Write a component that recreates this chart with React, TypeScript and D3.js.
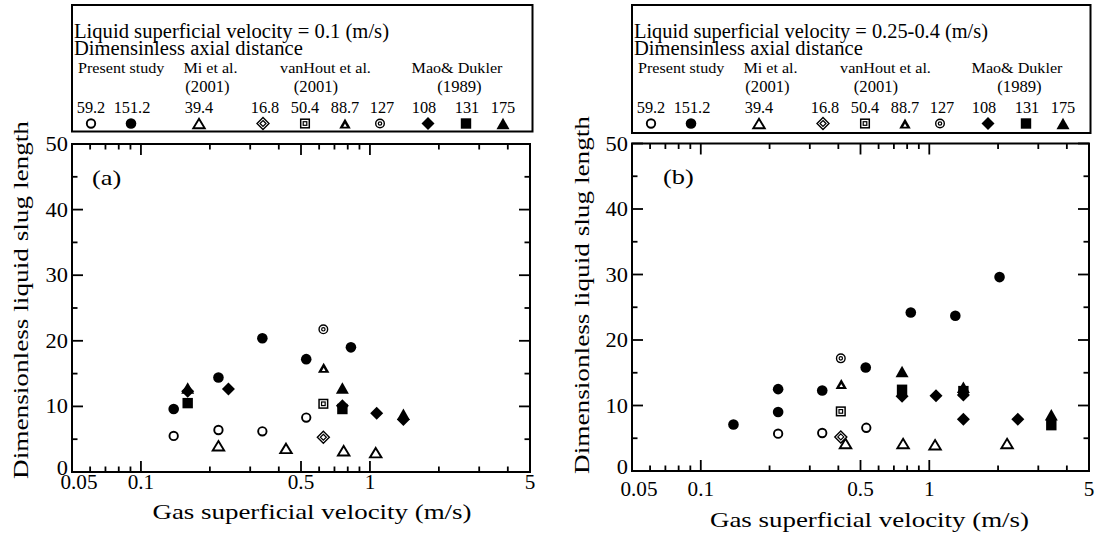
import React from 'react';
import * as d3 from 'd3';

// ---------- data ----------
const seriesKeys = ['ps59', 'ps151', 'mi39', 'vh17', 'vh50', 'vh89', 'vh127', 'md108', 'md131', 'md175'];
const seriesNumbers = ['59.2', '151.2', '39.4', '16.8', '50.4', '88.7', '127', '108', '131', '175'];
const groupNames = ['Present study', 'Mi et al.', 'vanHout et al.', 'Mao& Dukler'];
const groupYears = ['', '(2001)', '(2001)', '(1989)'];
const xTickValues = [0.05, 0.1, 0.5, 1, 5];
const xTickLabels = ['0.05', '0.1', '0.5', '1', '5'];
const xMinorValues = [0.06, 0.07, 0.08, 0.09, 0.2, 0.3, 0.4, 0.6, 0.7, 0.8, 0.9, 2, 3, 4];
const xMajorInner = [0.1, 0.5, 1];
const yTickValues = [0, 10, 20, 30, 40, 50];
const yMinorValues = [5, 15, 25, 35, 45];
const legendTitleA = 'Liquid superficial velocity = 0.1 (m/s)';
const legendTitleB = 'Liquid superficial velocity = 0.25-0.4 (m/s)';
const legendSubtitle = 'Dimensinless axial distance';
const xTitle = 'Gas superficial velocity (m/s)';
const yTitle = 'Dimensionless liquid slug length';

// Panel (a): Liquid superficial velocity = 0.1 m/s  [gas velocity, slug length]
const a_ps59 = [[0.139, 5.5], [0.218, 6.4], [0.339, 6.2], [0.527, 8.3]];
const a_ps151 = [[0.139, 9.6], [0.218, 14.4], [0.339, 20.4], [0.527, 17.2], [0.826, 19.0]];
const a_mi39 = [[0.218, 4.0], [0.43, 3.6], [0.768, 3.25], [1.06, 2.95]];
const a_vh17 = [[0.626, 5.3]];
const a_vh50 = [[0.626, 10.4]];
const a_vh89 = [[0.628, 15.9]];
const a_vh127 = [[0.626, 21.75]];
const a_md108 = [[0.16, 12.3], [0.241, 12.65], [0.758, 10.1], [1.07, 8.95], [1.4, 8.0]];
const a_md131 = [[0.16, 10.5], [0.758, 9.6]];
const a_md175 = [[0.16, 12.8], [0.758, 12.8], [1.4, 8.8]];

// Panel (b): Liquid superficial velocity = 0.25-0.4 m/s
const b_ps59 = [[0.218, 5.7], [0.34, 5.8], [0.53, 6.6]];
const b_ps151 = [[0.139, 7.1], [0.218, 9.0], [0.218, 12.5], [0.34, 12.3], [0.527, 15.8], [0.83, 24.2], [1.3, 23.7], [2.03, 29.6]];
const b_mi39 = [[0.43, 4.2], [0.768, 4.2], [1.06, 4.0], [2.19, 4.2]];
const b_vh17 = [[0.41, 5.2]];
const b_vh50 = [[0.41, 9.1]];
const b_vh89 = [[0.412, 13.3]];
const b_vh127 = [[0.41, 17.2]];
const b_md108 = [[0.76, 11.4], [1.07, 11.5], [1.41, 11.6], [1.41, 7.9], [2.44, 7.9]];
const b_md131 = [[0.76, 12.4], [1.41, 12.2], [3.42, 7.0]];
const b_md175 = [[0.76, 15.2], [1.41, 12.8], [3.42, 8.6]];

const panelAData = { ps59: a_ps59, ps151: a_ps151, mi39: a_mi39, vh17: a_vh17, vh50: a_vh50, vh89: a_vh89, vh127: a_vh127, md108: a_md108, md131: a_md131, md175: a_md175 };
const panelBData = { ps59: b_ps59, ps151: b_ps151, mi39: b_mi39, vh17: b_vh17, vh50: b_vh50, vh89: b_vh89, vh127: b_vh127, md108: b_md108, md131: b_md131, md175: b_md175 };

// ---------- layout ----------
const FONT = '"Liberation Serif","Times New Roman",Times,serif';
const legendNumOffsets = [19, 60, 127, 193, 233, 273, 310, 352, 395, 431];
const legendSymOffsets = [19, 59, 127, 191, 233, 273, 308, 356, 394, 431];
const groupOffsets = [6, 138.5, 253.5, 385];
const yearOffsets = [0, 135.5, 244, 387.5];

const layoutA = { plotL: 72, plotR: 530, plotT: 144, plotB: 472, legL: 72, legT: 5, legW: 460.5, legH: 126.5, yTitleX: 28, yTitleY: 300, xTitleY: 519, xLabY: 489, label: '(a)', labelX: 92, labelY: 185 };
const layoutB = { plotL: 632, plotR: 1089, plotT: 143.5, plotB: 471, legL: 632, legT: 5, legW: 458.5, legH: 128, yTitleX: 589, yTitleY: 295, xTitleY: 527, xLabY: 496, label: '(b)', labelX: 663, labelY: 184 };

function tri(w: number, h: number) {
  return `M0,${-h / 2}L${w / 2},${h / 2}L${-w / 2},${h / 2}Z`;
}
function dia(r: number) {
  return `M0,${-r}L${r},0L0,${r}L${-r},0Z`;
}

function Marker({ k, x, y }: { k: string; x: number; y: number }) {
  const t = `translate(${x},${y})`;
  switch (k) {
    case 'ps59':
      return <circle cx={x} cy={y} r={4.2} fill="#fff" stroke="#000" strokeWidth={1.9} />;
    case 'ps151':
      return <circle cx={x} cy={y} r={5.3} fill="#000" />;
    case 'mi39':
      return <path transform={t} d={tri(11.5, 9.5)} fill="#fff" stroke="#000" strokeWidth={1.9} strokeLinejoin="miter" />;
    case 'vh17':
      return (
        <g transform={t}>
          <path d={dia(6)} fill="#fff" stroke="#000" strokeWidth={1.4} />
          <path d={dia(3)} fill="#fff" stroke="#000" strokeWidth={1.2} />
        </g>
      );
    case 'vh50':
      return (
        <g transform={t}>
          <rect x={-4.3} y={-4.3} width={8.6} height={8.6} fill="#fff" stroke="#000" strokeWidth={1.5} />
          <rect x={-1.8} y={-1.8} width={3.6} height={3.6} fill="#fff" stroke="#000" strokeWidth={1.2} />
        </g>
      );
    case 'vh89':
      return (
        <g transform={t}>
          <path d={tri(11.5, 10)} fill="#000" />
          <path d={tri(3.6, 3.2)} transform="translate(0,1.6)" fill="#fff" />
        </g>
      );
    case 'vh127':
      return (
        <g transform={t}>
          <circle r={4.3} fill="#fff" stroke="#000" strokeWidth={1.4} />
          <circle r={1.7} fill="#fff" stroke="#000" strokeWidth={1.2} />
        </g>
      );
    case 'md108':
      return <path transform={t} d={dia(6.5)} fill="#000" />;
    case 'md131':
      return <rect x={x - 5.2} y={y - 5.2} width={10.4} height={10.4} fill="#000" />;
    case 'md175':
      return <path transform={t} d={tri(13, 11.5)} fill="#000" />;
    default:
      return null;
  }
}

function T({ x, y, size, anchor = 'start', sx = 1, len, rotate = 0, children }: any) {
  return (
    <text
      transform={`translate(${x},${y}) rotate(${rotate}) scale(${sx},1)`}
      fontSize={size}
      textAnchor={anchor}
      fontFamily={FONT}
      fill="#000"
      textLength={len}
      lengthAdjust={len ? 'spacingAndGlyphs' : undefined}
    >
      {children}
    </text>
  );
}

function Panel({ L, data, legendTitle, titleLen }: any) {
  const x = d3.scaleLog().domain([0.05, 5]).range([L.plotL, L.plotR]);
  const y = d3.scaleLinear().domain([0, 50]).range([L.plotB, L.plotT]);
  const major = 11;
  const minor = 5.5;
  const tickW = 1.8;
  return (
    <g>
      {/* legend box */}
      <rect x={L.legL} y={L.legT} width={L.legW} height={L.legH} fill="#fff" stroke="#000" strokeWidth={2} />
      <T x={L.legL + 2} y={L.legT + 33} size={20} len={titleLen}>{legendTitle}</T>
      <T x={L.legL + 2} y={L.legT + 50} size={20} sx={1.03}>{legendSubtitle}</T>
      {groupNames.map((g, i) => (
        <T key={g} x={L.legL + groupOffsets[i]} y={L.legT + 68} size={15.5} anchor={i === 0 ? 'start' : 'middle'} sx={1.04}>{g}</T>
      ))}
      {groupYears.map((g, i) =>
        g ? <T key={i} x={L.legL + yearOffsets[i]} y={L.legT + 86.5} size={16} anchor="middle" sx={1.04}>{g}</T> : null
      )}
      {seriesNumbers.map((n, i) => (
        <T key={n} x={L.legL + legendNumOffsets[i]} y={L.legT + 108} size={16} anchor="middle" sx={1.02}>{n}</T>
      ))}
      {seriesKeys.map((k, i) => (
        <Marker key={k} k={k} x={L.legL + legendSymOffsets[i]} y={L.legT + 118.5} />
      ))}

      {/* plot frame */}
      <rect x={L.plotL} y={L.plotT} width={L.plotR - L.plotL} height={L.plotB - L.plotT} fill="none" stroke="#000" strokeWidth={2} />
      {/* y ticks */}
      {yTickValues.map((v) => (
        <g key={'y' + v}>
          <line x1={L.plotL} x2={L.plotL + major} y1={y(v)} y2={y(v)} stroke="#000" strokeWidth={tickW} />
          <line x1={L.plotR} x2={L.plotR - major} y1={y(v)} y2={y(v)} stroke="#000" strokeWidth={tickW} />
          <T x={L.plotL - 4} y={y(v) + (v === 0 ? 3 : 7)} size={20} anchor="end" sx={1.12}>{String(v)}</T>
        </g>
      ))}
      {yMinorValues.map((v) => (
        <g key={'ym' + v}>
          <line x1={L.plotL} x2={L.plotL + minor} y1={y(v)} y2={y(v)} stroke="#000" strokeWidth={tickW} />
          <line x1={L.plotR} x2={L.plotR - minor} y1={y(v)} y2={y(v)} stroke="#000" strokeWidth={tickW} />
        </g>
      ))}
      {/* x ticks */}
      {xMajorInner.map((v) => (
        <g key={'x' + v}>
          <line x1={x(v)} x2={x(v)} y1={L.plotB} y2={L.plotB - major} stroke="#000" strokeWidth={tickW} />
          <line x1={x(v)} x2={x(v)} y1={L.plotT} y2={L.plotT + major} stroke="#000" strokeWidth={tickW} />
        </g>
      ))}
      {xMinorValues.map((v) => (
        <g key={'xm' + v}>
          <line x1={x(v)} x2={x(v)} y1={L.plotB} y2={L.plotB - minor} stroke="#000" strokeWidth={tickW} />
          <line x1={x(v)} x2={x(v)} y1={L.plotT} y2={L.plotT + minor} stroke="#000" strokeWidth={tickW} />
        </g>
      ))}
      {xTickValues.map((v, i) => (
        <T key={'xl' + v} x={x(v) + (i === 0 ? 7 : 0)} y={L.xLabY} size={20} anchor="middle" sx={1.06}>{xTickLabels[i]}</T>
      ))}

      {/* panel label */}
      <T x={L.labelX} y={L.labelY} size={22} sx={1.2}>{L.label}</T>

      {/* data */}
      {seriesKeys.map((k) =>
        (data[k] as number[][]).map((p, j) => <Marker key={k + j} k={k} x={x(p[0])} y={y(p[1])} />)
      )}

      {/* axis titles */}
      <T x={(L.plotL + L.plotR) / 2 + (L.plotL < 100 ? 11 : 9)} y={L.xTitleY} size={21} anchor="middle" len={319}>{xTitle}</T>
      <T x={L.yTitleX} y={L.yTitleY} size={22} anchor="middle" rotate={-90} len={358}>{yTitle}</T>
    </g>
  );
}

export default function App() {
  return (
    <svg width={1096} height={537} style={{ position: 'absolute', left: 0, top: 0, background: '#fff' }}>
      <rect x={0} y={0} width={1096} height={537} fill="#fff" />
      <Panel L={layoutA} data={panelAData} legendTitle={legendTitleA} titleLen={315} />
      <Panel L={layoutB} data={panelBData} legendTitle={legendTitleB} titleLen={354} />
    </svg>
  );
}
